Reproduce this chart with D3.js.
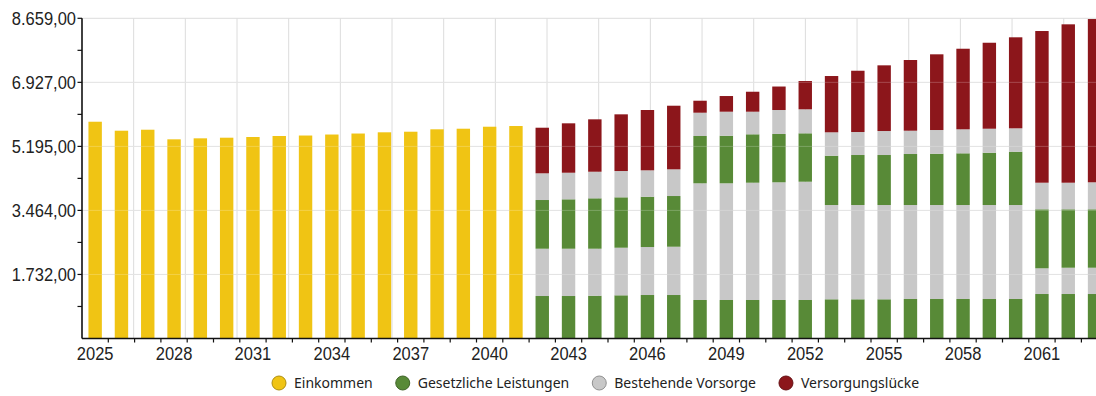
<!DOCTYPE html>
<html>
<head>
<meta charset="utf-8">
<script src="https://cdn.jsdelivr.net/npm/d3@7"></script>
<style>
  html, body { margin: 0; padding: 0; background: #fff; }
  svg { display: block; }
</style>
</head>
<body>
<svg id="chart" width="1096" height="396"></svg>
<script>
// Jahre der Projektion
const years = [2025, 2026, 2027, 2028, 2029, 2030, 2031, 2032, 2033, 2034, 2035, 2036, 2037,
  2038, 2039, 2040, 2041, 2042, 2043, 2044, 2045, 2046, 2047, 2048, 2049, 2050, 2051, 2052,
  2053, 2054, 2055, 2056, 2057, 2058, 2059, 2060, 2061, 2062, 2063];

// Erwerbsphase: Einkommen 2025–2041
const einkommenJahre = [2025, 2026, 2027, 2028, 2029, 2030, 2031, 2032, 2033, 2034, 2035,
  2036, 2037, 2038, 2039, 2040, 2041];
const einkommen = [5862, 5619, 5646, 5386, 5413, 5430, 5449, 5476, 5489, 5516, 5543,
  5576, 5592, 5657, 5673, 5727, 5746];

// Ruhestand: Bausteine 2042–2063 (von unten nach oben gestapelt)
const ruhestandJahre = [2042, 2043, 2044, 2045, 2046, 2047, 2048, 2049, 2050, 2051, 2052,
  2053, 2054, 2055, 2056, 2057, 2058, 2059, 2060, 2061, 2062, 2063];
const gesetzlich1 = [1149, 1149, 1157, 1168, 1176, 1176, 1041, 1041, 1041, 1041, 1041,
  1060, 1060, 1060, 1068, 1068, 1068, 1068, 1068, 1203, 1203, 1203];
const vorsorge1 = [1279, 1279, 1271, 1287, 1298, 1306, 3156, 3156, 3172, 3183, 3199,
  2550, 2550, 2550, 2542, 2542, 2542, 2542, 2542, 695, 711, 711];
const gesetzlich2 = [1317, 1336, 1363, 1363, 1360, 1371, 1279, 1287, 1309, 1306, 1309,
  1333, 1352, 1352, 1379, 1387, 1398, 1414, 1441, 1596, 1580, 1580];
const vorsorge2 = [722, 719, 719, 711, 714, 722, 630, 649, 611, 649, 649,
  633, 622, 649, 630, 641, 649, 649, 633, 719, 719, 730];
const luecke = [1233, 1336, 1417, 1533, 1631, 1720, 324, 424, 540, 635, 765,
  1522, 1657, 1776, 1912, 2047, 2179, 2325, 2461, 4102, 4283, 4415];

// Achsen
const yMax = 8659;
const yTicks = [1732, 3464, 5195, 6927, 8659];
const yMinorTicks = [866, 2598, 4330, 6061, 7793];
const xLabelYears = [2025, 2028, 2031, 2034, 2037, 2040, 2043, 2046, 2049, 2052, 2055, 2058, 2061];

// Legende
const legendLabels = ["Einkommen", "Gesetzliche Leistungen", "Bestehende Vorsorge", "Versorgungslücke"];
const legendColors = ["#f0c414", "#588a37", "#c8c8c8", "#8c161b"];

// ---------------------------------------------------------------
const keys = ["einkommen", "gesetzlich1", "vorsorge1", "gesetzlich2", "vorsorge2", "luecke"];
const keyColor = {
  einkommen: legendColors[0],
  gesetzlich1: legendColors[1], gesetzlich2: legendColors[1],
  vorsorge1: legendColors[2], vorsorge2: legendColors[2],
  luecke: legendColors[3]
};

const table = years.map(yr => {
  const row = { year: yr };
  keys.forEach(k => row[k] = 0);
  const ei = einkommenJahre.indexOf(yr);
  if (ei >= 0) row.einkommen = einkommen[ei];
  const ri = ruhestandJahre.indexOf(yr);
  if (ri >= 0) {
    row.gesetzlich1 = gesetzlich1[ri];
    row.vorsorge1 = vorsorge1[ri];
    row.gesetzlich2 = gesetzlich2[ri];
    row.vorsorge2 = vorsorge2[ri];
    row.luecke = luecke[ri];
  }
  return row;
});

const W = 1096;
const plotLeft = 82, plotTop = 18.3, plotBottom = 338.5;
const step = 26.3;
const gridStep = 51.67;

const svg = d3.select("#chart");

const x = d3.scaleBand()
  .domain(years)
  .range([plotLeft, plotLeft + years.length * step])
  .paddingInner(0.49)
  .paddingOuter(0.245);

const y = d3.scaleLinear().domain([0, yMax]).range([plotBottom, plotTop]);

const gridX = d3.scaleLinear().domain([0, 20]).range([plotLeft, plotLeft + 20 * gridStep]);

// vertikale Gitterlinien
svg.append("g")
  .selectAll("line")
  .data(d3.range(1, 21))
  .join("line")
  .attr("x1", d => gridX(d)).attr("x2", d => gridX(d))
  .attr("y1", plotTop).attr("y2", plotBottom)
  .attr("stroke", "#dcdcdc").attr("stroke-width", 1);

// horizontale Gitterlinien
svg.append("g")
  .selectAll("line")
  .data(yTicks)
  .join("line")
  .attr("x1", plotLeft).attr("x2", W)
  .attr("y1", d => y(d)).attr("y2", d => y(d))
  .attr("stroke", "#dcdcdc").attr("stroke-width", 1);

// gestapelte Säulen
const stacked = d3.stack().keys(keys)(table);
svg.append("g")
  .selectAll("g")
  .data(stacked)
  .join("g")
  .attr("fill", s => keyColor[s.key])
  .selectAll("rect")
  .data(s => s.filter(d => d[1] - d[0] > 0))
  .join("rect")
  .attr("x", d => x(d.data.year))
  .attr("width", x.bandwidth())
  .attr("y", d => y(d[1]))
  .attr("height", d => y(d[0]) - y(d[1]));

// leichte Gitterlinien über den Säulen
svg.append("g")
  .selectAll("line")
  .data(yTicks.slice(0, -1))
  .join("line")
  .attr("x1", plotLeft).attr("x2", W)
  .attr("y1", d => y(d)).attr("y2", d => y(d))
  .attr("stroke", "#ffffff").attr("stroke-opacity", 0.22).attr("stroke-width", 1);

// Y-Achse
const fmt = d3.formatLocale({ decimal: ",", thousands: ".", grouping: [3], currency: ["", " €"] }).format(",.2f");
const yAxis = svg.append("g");
yAxis.append("line")
  .attr("x1", plotLeft).attr("x2", plotLeft)
  .attr("y1", plotTop).attr("y2", plotBottom)
  .attr("stroke", "#111").attr("stroke-width", 1.6);
yAxis.selectAll("line.tick")
  .data(yTicks.concat(yMinorTicks))
  .join("line")
  .attr("class", "tick")
  .attr("x1", plotLeft - 4.5).attr("x2", plotLeft)
  .attr("y1", d => y(d)).attr("y2", d => y(d))
  .attr("stroke", "#111").attr("stroke-width", 1.2);
yAxis.selectAll("text")
  .data(yTicks)
  .join("text")
  .attr("transform", d => `translate(${plotLeft - 6},${y(d)}) scale(1,1.06)`)
  .attr("text-anchor", "end")
  .attr("dy", "0.36em")
  .attr("font-family", "'Liberation Sans', Arial, sans-serif")
  .attr("font-size", 16.5)
  .attr("fill", "#222")
  .text(d => fmt(Math.round(d)));

// X-Achse
const xAxis = svg.append("g");
xAxis.append("line")
  .attr("x1", plotLeft).attr("x2", W)
  .attr("y1", plotBottom).attr("y2", plotBottom)
  .attr("stroke", "#111").attr("stroke-width", 1.6);
xAxis.selectAll("line.tick")
  .data(years)
  .join("line")
  .attr("class", "tick")
  .attr("x1", d => x(d) + x.bandwidth() + x.step() * x.paddingInner() / 2)
  .attr("x2", d => x(d) + x.bandwidth() + x.step() * x.paddingInner() / 2)
  .attr("y1", plotBottom).attr("y2", plotBottom + 4)
  .attr("stroke", "#111").attr("stroke-width", 1.2);
xAxis.selectAll("text")
  .data(xLabelYears)
  .join("text")
  .attr("transform", d => `translate(${x(d) + x.bandwidth() / 2},${plotBottom + 21.5}) scale(1,1.08)`)
  .attr("text-anchor", "middle")
  .attr("font-family", "'Liberation Sans', Arial, sans-serif")
  .attr("font-size", 16.5)
  .attr("fill", "#222")
  .text(d => d);

// Legende
const legend = svg.append("g");
let lx = 279;
const ly = 383;
legendLabels.forEach((label, i) => {
  const item = legend.append("g");
  item.append("circle")
    .attr("cx", lx).attr("cy", ly).attr("r", 7)
    .attr("fill", legendColors[i])
    .attr("stroke", d3.color(legendColors[i]).darker(0.9))
    .attr("stroke-width", 1);
  const t = item.append("text")
    .attr("x", lx + 15).attr("y", ly)
    .attr("dy", "0.35em")
    .attr("font-family", "'Noto Sans', sans-serif")
    .attr("font-size", 14)
    .attr("fill", "#222")
    .text(label);
  lx += 15 + t.node().getComputedTextLength() + 30;
});
</script>
</body>
</html>
